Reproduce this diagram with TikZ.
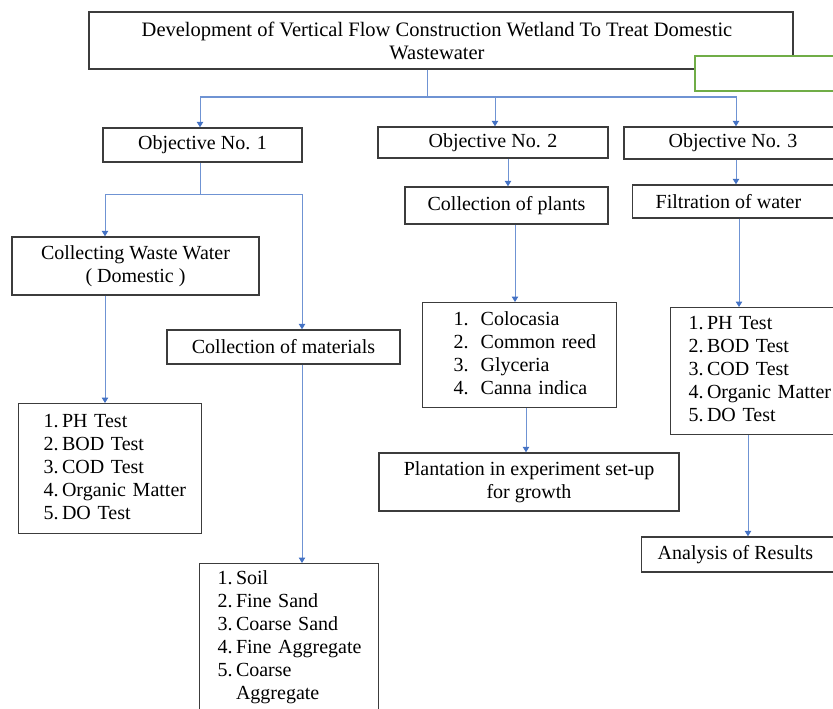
\documentclass[tikz,border=0pt]{standalone}
\usepackage{fontspec}
\setmainfont{Liberation Serif}
\usetikzlibrary{arrows.meta}
\definecolor{boxline}{HTML}{3C3C3C}
\definecolor{arrblue}{HTML}{4472C4}
\definecolor{lineblue}{HTML}{6F93D3}
\definecolor{grn}{HTML}{70AD47}
\begin{document}
\begin{tikzpicture}[x=1pt,y=-1pt,
  every node/.style={font=\fontsize{20}{23}\selectfont},
  box/.style={draw=boxline,line width=1.4pt,fill=white,inner sep=0pt,align=center},
  listbox/.style={draw=boxline,line width=1.4pt,fill=white,anchor=north west,inner ysep=0pt,align=left},
  arr/.style={draw=lineblue,line width=1pt,-{Triangle[width=6.5pt,length=5.5pt,color=arrblue]}},
  ln/.style={draw=lineblue,line width=1pt}]
\useasboundingbox (0,0) rectangle (833,709);
% boxes
\node[box,minimum width=704pt,minimum height=57pt,font=\fontsize{20.5}{23}\selectfont] (title) at (441,40.5)
  {\hspace*{-8pt}Development of Vertical Flow Construction Wetland To Treat Domestic\\\hspace*{-8pt}Wastewater};
\node[draw=grn,line width=2pt,fill=white,minimum width=150pt,minimum height=35pt,anchor=north west,inner sep=0pt] (green) at (694,55) {};
\node[box,minimum width=199pt,minimum height=34pt] (obj1) at (202.5,145) {Objective No. 1};
\node[box,minimum width=230pt,minimum height=31pt] (obj2) at (493,142.5) {Objective No. 2};
\node[box,minimum width=218pt,minimum height=32pt] (obj3) at (733,143) {Objective No. 3};
\node[box,minimum width=203pt,minimum height=37pt] (plants) at (506.5,205.5) {Collection of plants};
\node[box,minimum height=33pt,anchor=west] (filt) at (632,201.5) {\hspace*{23pt}Filtration of water\hspace*{50pt}};
\node[box,minimum width=247pt,minimum height=58pt] (coll) at (135.5,266) {Collecting Waste Water\\( Domestic )};
\node[box,minimum width=233pt,minimum height=34pt] (mat) at (283.5,347) {Collection of materials};
\node[listbox,minimum width=183pt,minimum height=130pt,inner xsep=25pt,text width=133pt] (list1) at (18,403)
  {\begin{tabular}{@{}l@{\,}l@{}}1.&PH Test\\2.&BOD Test\\3.&COD Test\\4.&Organic Matter\\5.&DO Test\end{tabular}};
\node[listbox,minimum width=194pt,minimum height=105pt,inner xsep=31pt,text width=132pt] (list2) at (422,302)
  {\begin{tabular}{@{}l@{\hspace{12pt}}l@{}}1.&Colocasia\\2.&Common reed\\3.&Glyceria\\4.&Canna indica\end{tabular}};
\node[listbox,minimum width=190pt,minimum height=127pt,inner xsep=18pt,text width=154pt] (list3) at (670,307)
  {\begin{tabular}{@{}l@{\,}l@{}}1.&PH Test\\2.&BOD Test\\3.&COD Test\\4.&Organic Matter\\5.&DO Test\end{tabular}};
\node[box,minimum width=300pt,minimum height=58pt] (plant) at (529,482) {Plantation in experiment set-up\\for growth};
\node[box,minimum height=35pt,anchor=west] (anal) at (641,554.5) {\hspace*{16pt}Analysis of Results\hspace*{40pt}};
\node[listbox,minimum width=179pt,inner xsep=18pt,inner ysep=5pt,text width=143pt] (soil) at (199,563)
  {\begin{tabular}{@{}l@{\,}l@{}}1.&Soil\\2.&Fine Sand\\3.&Coarse Sand\\4.&Fine Aggregate\\5.&Coarse\\&Aggregate\end{tabular}};
% junction coordinates
\coordinate (j0) at (427,97);
\coordinate (j1) at (200,194);
\coordinate (ja) at (105,194);
\coordinate (jb) at (302,194);
\coordinate (c2) at (508,0);
\coordinate (c3) at (515,0);
\coordinate (c4) at (526,0);
\coordinate (c5) at (736,0);
\coordinate (c6) at (739,0);
\coordinate (c7) at (748,0);
\coordinate (c1) at (200,0);
\coordinate (cb) at (495,0);
% connectors
\draw[ln] (j0 |- title.south) -- (j0);
\draw[arr] (j0) -- (c1 |- j0) -- (c1 |- obj1.north);
\draw[arr] (j0) -- (cb |- j0) -- (cb |- obj2.north);
\draw[arr] (j0) -- (c5 |- j0) -- (c5 |- obj3.north);
\draw[ln] (c1 |- obj1.south) -- (j1);
\draw[arr] (j1) -- (ja) -- (ja |- coll.north);
\draw[arr] (j1) -- (jb) -- (jb |- mat.north);
\draw[arr] (ja |- coll.south) -- (ja |- list1.north);
\draw[arr] (jb |- mat.south) -- (jb |- soil.north);
\draw[arr] (c2 |- obj2.south) -- (c2 |- plants.north);
\draw[arr] (c3 |- plants.south) -- (c3 |- list2.north);
\draw[arr] (c4 |- list2.south) -- (c4 |- plant.north);
\draw[arr] (c5 |- obj3.south) -- (c5 |- filt.north);
\draw[arr] (c6 |- filt.south) -- (c6 |- list3.north);
\draw[arr] (c7 |- list3.south) -- (c7 |- anal.north);
\end{tikzpicture}
\end{document}
